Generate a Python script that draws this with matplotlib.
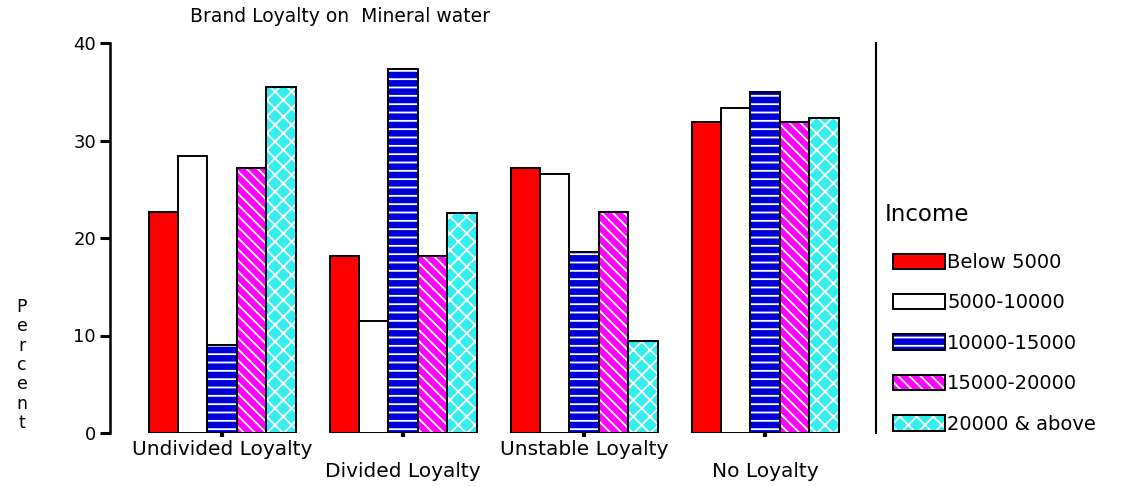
import matplotlib.pyplot as plt
import numpy as np

# data
groups = ["Undivided Loyalty", "Divided Loyalty", "Unstable Loyalty", "No Loyalty"]
income = ["Below 5000", "5000-10000", "10000-15000", "15000-20000", "20000 & above"]

below_5000 = [22.7, 18.2, 27.2, 31.9]
r5000_10000 = [28.4, 11.5, 26.6, 33.3]
r10000_15000 = [9.0, 37.3, 18.6, 35.0]
r15000_20000 = [27.2, 18.2, 22.7, 31.9]
r20000_above = [35.5, 22.6, 9.4, 32.3]

series = [below_5000, r5000_10000, r10000_15000, r15000_20000, r20000_above]
colors = ["#ff0000", "#ffffff", "#0000d8", "#ff00ff", "#33eeee"]
hatches = [None, None, "--", "\\\\\\", "xx"]

plt.rcParams['hatch.color'] = 'white'
plt.rcParams['hatch.linewidth'] = 1.3
plt.rcParams['font.family'] = 'DejaVu Sans'

fig = plt.figure(figsize=(11.36, 4.87), dpi=100)
ax = fig.add_axes([110 / 1136, 54 / 487, 766 / 1136, 390 / 487])

x = np.arange(len(groups))
w = 0.1625
handles = []
for k, vals in enumerate(series):
    pos = x + (k - 2) * w
    ax.bar(pos, vals, w, color=colors[k], hatch=hatches[k], linewidth=0)   # fill + white hatch
    ax.bar(pos, vals, w, fill=False, edgecolor='black', linewidth=1.4)     # outline
    h1 = plt.Rectangle((0, 0), 1, 1, facecolor=colors[k], hatch=hatches[k], linewidth=0)
    h2 = plt.Rectangle((0, 0), 1, 1, fill=False, edgecolor='black', linewidth=1.4)
    handles.append((h1, h2))

ax.set_ylim(0, 40)
ax.set_xlim(-0.619, 3.613)
ax.set_yticks([0, 10, 20, 30, 40])
ax.tick_params(axis='y', length=7, width=2.2, pad=3, labelsize=13)
ax.set_xticks(x, [g if i % 2 == 0 else "\n" + g for i, g in enumerate(groups)])
ax.tick_params(axis='x', length=3, width=3, pad=2, labelsize=14.5)

ax.spines['top'].set_visible(False)
ax.spines['bottom'].set_visible(False)
ax.spines['left'].set_linewidth(1.8)
ax.spines['right'].set_linewidth(1.5)

fig.text(340 / 1136, 1 - 17 / 487, "Brand Loyalty on  Mineral water", ha='center', va='center', fontsize=13.5)
fig.text(22 / 1136, 1 - 365 / 487, "P\ne\nr\nc\ne\nn\nt", ha='center', va='center', fontsize=12.5, linespacing=1.1)

fig.text(885 / 1136, 1 - 215 / 487, "Income", ha='left', va='center', fontsize=16.5)
leg = fig.legend(handles, income, loc='upper left', bbox_to_anchor=(893 / 1136, 1 - 253 / 487),
                 frameon=False, borderpad=0, borderaxespad=0, fontsize=14,
                 handlelength=2.68, handleheight=0.85, handletextpad=0.1, labelspacing=1.1)

fig.savefig("out.png", dpi=100)
